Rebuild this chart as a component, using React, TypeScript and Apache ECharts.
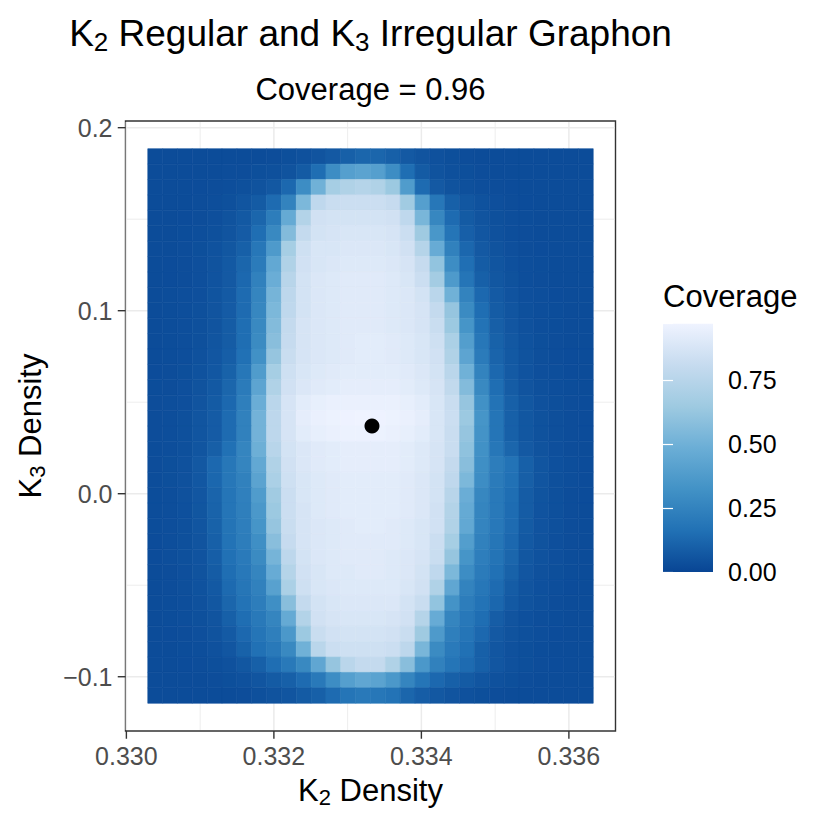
import React, { useEffect, useRef } from "react";
import * as echarts from "echarts";

// ---- data ----
// extent of the coverage raster (K2 density on x, K3 density on y)
const rasterX = [0.33029, 0.33633];
const rasterY = [-0.1145, 0.1885];

// coverage values, rows from top (high K3) to bottom (low K3), columns left to right
const coverageRows: number[][] = [
  [0.025,0.025,0.025,0.025,0.025,0.025,0.025,0.025,0.03,0.035,0.045,0.055,0.075,0.10,0.12,0.12,0.10,0.075,0.055,0.045,0.035,0.03,0.025,0.025,0.025,0.025,0.025,0.025,0.025,0.025],
  [0.025,0.025,0.025,0.025,0.025,0.03,0.03,0.035,0.04,0.05,0.08,0.15,0.30,0.40,0.42,0.40,0.30,0.15,0.08,0.05,0.04,0.035,0.03,0.025,0.025,0.025,0.025,0.025,0.025,0.025],
  [0.025,0.025,0.025,0.027,0.03,0.033,0.04,0.05,0.07,0.13,0.30,0.50,0.68,0.72,0.74,0.72,0.64,0.38,0.14,0.075,0.05,0.04,0.033,0.03,0.027,0.025,0.025,0.025,0.025,0.025],
  [0.025,0.025,0.025,0.03,0.033,0.04,0.058,0.08,0.14,0.25,0.54,0.78,0.82,0.83,0.83,0.83,0.81,0.66,0.40,0.19,0.10,0.065,0.047,0.037,0.03,0.027,0.025,0.025,0.025,0.025],
  [0.025,0.025,0.027,0.031,0.037,0.05,0.072,0.12,0.22,0.46,0.73,0.85,0.86,0.86,0.86,0.86,0.85,0.78,0.53,0.27,0.14,0.08,0.055,0.039,0.032,0.028,0.025,0.025,0.025,0.025],
  [0.025,0.025,0.028,0.033,0.04,0.056,0.082,0.15,0.28,0.56,0.80,0.86,0.87,0.88,0.88,0.88,0.87,0.83,0.65,0.35,0.18,0.097,0.064,0.045,0.034,0.03,0.026,0.025,0.025,0.025],
  [0.025,0.026,0.03,0.035,0.047,0.065,0.10,0.19,0.37,0.68,0.84,0.88,0.88,0.89,0.89,0.89,0.88,0.85,0.74,0.47,0.24,0.125,0.075,0.051,0.037,0.031,0.027,0.025,0.025,0.025],
  [0.025,0.027,0.03,0.037,0.05,0.072,0.12,0.21,0.45,0.72,0.85,0.88,0.89,0.90,0.90,0.90,0.89,0.87,0.81,0.61,0.30,0.155,0.085,0.058,0.042,0.033,0.028,0.025,0.025,0.025],
  [0.025,0.027,0.031,0.037,0.052,0.075,0.13,0.24,0.48,0.75,0.86,0.89,0.90,0.91,0.91,0.91,0.90,0.88,0.83,0.67,0.37,0.18,0.10,0.065,0.046,0.034,0.03,0.026,0.025,0.025],
  [0.025,0.028,0.032,0.038,0.054,0.078,0.14,0.26,0.52,0.77,0.86,0.89,0.90,0.91,0.91,0.91,0.90,0.89,0.86,0.76,0.50,0.25,0.13,0.078,0.052,0.037,0.032,0.027,0.025,0.025],
  [0.025,0.028,0.033,0.039,0.055,0.082,0.14,0.27,0.54,0.78,0.86,0.89,0.90,0.91,0.91,0.91,0.90,0.89,0.87,0.80,0.62,0.29,0.15,0.085,0.057,0.041,0.033,0.028,0.025,0.025],
  [0.025,0.028,0.033,0.04,0.056,0.085,0.15,0.28,0.56,0.80,0.87,0.89,0.90,0.91,0.91,0.91,0.90,0.89,0.87,0.82,0.64,0.34,0.17,0.095,0.062,0.043,0.034,0.029,0.025,0.025],
  [0.025,0.029,0.033,0.04,0.058,0.085,0.15,0.29,0.58,0.81,0.87,0.89,0.90,0.91,0.92,0.92,0.91,0.90,0.88,0.84,0.70,0.39,0.19,0.105,0.068,0.047,0.035,0.03,0.026,0.025],
  [0.026,0.029,0.034,0.043,0.062,0.092,0.16,0.32,0.62,0.82,0.87,0.89,0.90,0.91,0.92,0.92,0.91,0.90,0.88,0.85,0.72,0.43,0.21,0.115,0.072,0.05,0.036,0.03,0.027,0.025],
  [0.027,0.03,0.035,0.047,0.067,0.105,0.19,0.38,0.68,0.84,0.88,0.90,0.91,0.92,0.92,0.92,0.92,0.91,0.89,0.86,0.76,0.50,0.25,0.13,0.078,0.052,0.037,0.032,0.027,0.025],
  [0.028,0.031,0.037,0.05,0.072,0.12,0.21,0.43,0.72,0.85,0.89,0.91,0.92,0.93,0.93,0.93,0.93,0.92,0.90,0.87,0.79,0.56,0.28,0.15,0.085,0.056,0.04,0.033,0.028,0.025],
  [0.03,0.033,0.038,0.055,0.08,0.13,0.23,0.48,0.76,0.87,0.92,0.94,0.95,0.95,0.95,0.95,0.95,0.94,0.92,0.88,0.82,0.62,0.32,0.17,0.10,0.065,0.045,0.035,0.03,0.027],
  [0.03,0.034,0.04,0.057,0.082,0.14,0.24,0.51,0.77,0.87,0.93,0.95,0.96,0.965,0.97,0.965,0.96,0.95,0.93,0.88,0.83,0.64,0.34,0.18,0.10,0.066,0.046,0.036,0.03,0.027],
  [0.03,0.034,0.04,0.057,0.082,0.14,0.24,0.51,0.77,0.87,0.92,0.94,0.95,0.96,0.96,0.96,0.95,0.94,0.92,0.88,0.82,0.62,0.33,0.18,0.10,0.066,0.046,0.036,0.03,0.027],
  [0.028,0.033,0.04,0.06,0.095,0.16,0.26,0.49,0.75,0.86,0.89,0.91,0.92,0.93,0.93,0.93,0.93,0.92,0.90,0.87,0.82,0.60,0.32,0.19,0.12,0.075,0.05,0.037,0.03,0.026],
  [0.03,0.035,0.045,0.07,0.13,0.19,0.26,0.45,0.72,0.85,0.89,0.91,0.92,0.93,0.93,0.93,0.93,0.92,0.90,0.87,0.80,0.58,0.31,0.22,0.17,0.10,0.06,0.042,0.032,0.027],
  [0.029,0.035,0.044,0.067,0.125,0.19,0.24,0.42,0.70,0.84,0.88,0.90,0.91,0.92,0.92,0.92,0.92,0.91,0.89,0.86,0.78,0.54,0.30,0.21,0.16,0.095,0.058,0.041,0.032,0.027],
  [0.029,0.034,0.043,0.063,0.115,0.18,0.235,0.38,0.66,0.83,0.88,0.90,0.91,0.92,0.92,0.92,0.92,0.91,0.89,0.86,0.75,0.48,0.27,0.20,0.15,0.085,0.054,0.04,0.031,0.027],
  [0.029,0.034,0.042,0.061,0.11,0.18,0.23,0.36,0.64,0.83,0.87,0.90,0.91,0.92,0.92,0.92,0.92,0.91,0.89,0.85,0.73,0.46,0.26,0.20,0.145,0.083,0.053,0.039,0.031,0.026],
  [0.028,0.034,0.041,0.058,0.105,0.175,0.225,0.34,0.62,0.82,0.87,0.89,0.90,0.91,0.92,0.92,0.91,0.90,0.88,0.85,0.72,0.45,0.255,0.195,0.14,0.08,0.052,0.039,0.031,0.026],
  [0.027,0.033,0.04,0.055,0.10,0.17,0.22,0.31,0.58,0.81,0.87,0.89,0.90,0.91,0.91,0.91,0.91,0.90,0.88,0.83,0.68,0.39,0.24,0.185,0.13,0.072,0.05,0.038,0.03,0.026],
  [0.027,0.032,0.039,0.053,0.092,0.16,0.205,0.29,0.52,0.77,0.86,0.89,0.90,0.91,0.91,0.91,0.90,0.89,0.87,0.82,0.62,0.34,0.225,0.175,0.12,0.066,0.047,0.037,0.029,0.026],
  [0.026,0.031,0.037,0.05,0.083,0.15,0.195,0.26,0.47,0.74,0.85,0.88,0.90,0.90,0.91,0.91,0.90,0.89,0.86,0.78,0.54,0.30,0.21,0.16,0.105,0.062,0.045,0.035,0.028,0.025],
  [0.026,0.03,0.036,0.048,0.074,0.135,0.185,0.24,0.41,0.70,0.84,0.88,0.89,0.90,0.90,0.90,0.90,0.88,0.85,0.72,0.44,0.25,0.19,0.14,0.085,0.055,0.042,0.033,0.027,0.025],
  [0.025,0.029,0.034,0.045,0.065,0.12,0.17,0.22,0.31,0.58,0.80,0.86,0.88,0.89,0.89,0.89,0.89,0.86,0.82,0.61,0.33,0.22,0.17,0.125,0.072,0.05,0.039,0.031,0.026,0.025],
  [0.025,0.028,0.032,0.04,0.055,0.10,0.15,0.20,0.26,0.46,0.73,0.85,0.87,0.88,0.88,0.88,0.87,0.85,0.74,0.47,0.26,0.195,0.15,0.09,0.056,0.042,0.034,0.029,0.026,0.025],
  [0.025,0.027,0.03,0.038,0.05,0.078,0.13,0.18,0.23,0.36,0.64,0.82,0.85,0.86,0.86,0.86,0.85,0.82,0.65,0.37,0.23,0.18,0.13,0.075,0.05,0.04,0.032,0.027,0.025,0.025],
  [0.025,0.025,0.028,0.033,0.045,0.062,0.105,0.16,0.20,0.28,0.50,0.76,0.83,0.84,0.84,0.84,0.83,0.77,0.53,0.29,0.205,0.16,0.10,0.062,0.045,0.035,0.029,0.025,0.025,0.025],
  [0.025,0.025,0.027,0.03,0.035,0.045,0.065,0.10,0.15,0.20,0.28,0.44,0.62,0.76,0.80,0.80,0.72,0.58,0.36,0.24,0.18,0.14,0.10,0.062,0.045,0.035,0.03,0.027,0.025,0.025],
  [0.025,0.025,0.025,0.025,0.03,0.035,0.045,0.06,0.08,0.10,0.14,0.20,0.30,0.40,0.44,0.42,0.36,0.26,0.18,0.13,0.10,0.08,0.06,0.045,0.035,0.03,0.025,0.025,0.025,0.025],
  [0.025,0.025,0.025,0.025,0.025,0.025,0.03,0.04,0.05,0.06,0.08,0.10,0.14,0.18,0.20,0.19,0.17,0.12,0.09,0.07,0.055,0.045,0.035,0.03,0.025,0.025,0.025,0.025,0.025,0.025],
];

const xMajorBreaks = [0.330, 0.332, 0.334, 0.336];
const xMinorBreaks = [0.331, 0.333, 0.335];
const yMajorBreaks = [-0.1, 0.0, 0.1, 0.2];
const yMinorBreaks = [-0.05, 0.05, 0.15];
const legendBreaks = [0, 0.25, 0.5, 0.75];

const pointX = [0.33333];
const pointY = [0.037];

const bluesPalette = ["#084594", "#2171b5", "#4292c6", "#6baed6", "#9ecae1", "#c6dbef", "#eff3ff"];

// ---- derived ----
const FONT = "'Liberation Sans', Arial, Helvetica, sans-serif";
const expand = (r: number[]) => {
  const d = (r[1] - r[0]) * 0.05;
  return [r[0] - d, r[1] + d];
};
const [xMin, xMax] = expand(rasterX);
const [yMin, yMax] = expand(rasterY);

const nRows = coverageRows.length;
const nCols = coverageRows[0].length;
const dx = (rasterX[1] - rasterX[0]) / nCols;
const dy = (rasterY[1] - rasterY[0]) / nRows;
const cells: number[][] = [];
coverageRows.forEach((row, r) => {
  row.forEach((v, c) => {
    const x0 = rasterX[0] + c * dx;
    const yTop = rasterY[1] - r * dy;
    cells.push([x0, x0 + dx, yTop - dy, yTop, v]);
  });
});
let covMax = 0;
coverageRows.forEach((row) => row.forEach((v) => { if (v > covMax) covMax = v; }));

const gridLineData: number[][] = [
  ...xMajorBreaks.map((v) => [0, 0, v]),
  ...xMinorBreaks.map((v) => [0, 1, v]),
  ...yMajorBreaks.map((v) => [1, 0, v]),
  ...yMinorBreaks.map((v) => [1, 1, v]),
];
const tickData: number[][] = [
  ...xMajorBreaks.map((v) => [0, v]),
  ...yMajorBreaks.map((v) => [1, v]),
];

// layout
const PANEL = { left: 125.5, top: 121, width: 490, height: 610 };
const LEG = { left: 663, bottom: 572, width: 50, perUnit: 256 };
const legHeight = covMax * LEG.perUnit;
const legTop = LEG.bottom - legHeight;
const legendInterval = legendBreaks[1] - legendBreaks[0];

const fmtSigned = (v: number, d: number) => (v < 0 ? "\u2212" + Math.abs(v).toFixed(d) : v.toFixed(d));

export default function App() {
  const ref = useRef<HTMLDivElement>(null);
  useEffect(() => {
    if (!ref.current) return;
    const chart = echarts.init(ref.current, null, { renderer: "svg" });
    const stops = bluesPalette.map((c, i) => ({ offset: i / (bluesPalette.length - 1), color: c }));
    const option: any = {
      animation: false,
      textStyle: { fontFamily: FONT },
      grid: [
        {
          left: PANEL.left, top: PANEL.top, width: PANEL.width, height: PANEL.height,
          show: true, borderColor: "#333333", borderWidth: 1.4, backgroundColor: "transparent",
          containLabel: false, outerBoundsMode: "none",
        },
        {
          left: LEG.left, top: legTop, width: LEG.width, height: legHeight,
          show: false, containLabel: false, outerBoundsMode: "none",
        },
      ],
      xAxis: [
        {
          type: "value", gridIndex: 0, min: xMin, max: xMax,
          minInterval: 0.002, maxInterval: 0.002,
          axisLine: { show: false }, axisTick: { show: false }, splitLine: { show: false },
          axisLabel: {
            show: true, fontSize: 25, color: "#4d4d4d", fontFamily: FONT, margin: 12,
            showMinLabel: false, showMaxLabel: false,
            formatter: (v: number) => v.toFixed(3),
          },
        },
        { type: "value", gridIndex: 1, min: 0, max: 1, show: false },
      ],
      yAxis: [
        {
          type: "value", gridIndex: 0, min: yMin, max: yMax,
          minInterval: 0.1, maxInterval: 0.1,
          axisLine: { show: false }, axisTick: { show: false }, splitLine: { show: false },
          axisLabel: {
            show: true, fontSize: 25, color: "#4d4d4d", fontFamily: FONT, margin: 13,
            showMinLabel: false, showMaxLabel: false,
            formatter: (v: number) => fmtSigned(v, 1),
          },
        },
        {
          type: "value", gridIndex: 1, position: "right", min: 0, max: covMax, interval: legendInterval,
          axisLine: { show: false },
          axisTick: { show: true, inside: true, length: 10, lineStyle: { color: "#ffffff", width: 1.2 } },
          splitLine: { show: false },
          axisLabel: {
            show: true, fontSize: 25, color: "#000000", fontFamily: FONT, margin: 15,
            showMaxLabel: false,
            formatter: (v: number) => v.toFixed(2),
          },
        },
        {
          type: "value", gridIndex: 1, position: "left", min: 0, max: covMax, interval: legendInterval,
          axisLine: { show: false },
          axisTick: { show: true, inside: true, length: 10, lineStyle: { color: "#ffffff", width: 1.2 } },
          splitLine: { show: false },
          axisLabel: { show: false },
        },
      ],
      visualMap: {
        type: "continuous", show: false, min: 0, max: covMax, dimension: 4, seriesIndex: 1,
        inRange: { color: bluesPalette },
      },
      series: [
        {
          type: "custom", name: "grid", xAxisIndex: 0, yAxisIndex: 0, z: 1, silent: true,
          data: gridLineData,
          renderItem: (params: any, api: any) => {
            const cs = params.coordSys;
            const orient = api.value(0);
            const kind = api.value(1);
            const v = api.value(2);
            let shape;
            if (orient === 0) {
              const p = api.coord([v, yMin]);
              shape = { x1: p[0], y1: cs.y + 1, x2: p[0], y2: cs.y + cs.height - 1 };
            } else {
              const p = api.coord([xMin, v]);
              shape = { x1: cs.x + 1, y1: p[1], x2: cs.x + cs.width - 1, y2: p[1] };
            }
            return { type: "line", shape, style: { stroke: "#ebebeb", lineWidth: kind === 0 ? 1.5 : 0.9 } };
          },
        },
        {
          type: "custom", name: "Coverage", xAxisIndex: 0, yAxisIndex: 0, z: 2, silent: true,
          data: cells,
          encode: { x: [0, 1], y: [2, 3] },
          renderItem: (_params: any, api: any) => {
            const p0 = api.coord([api.value(0), api.value(3)]);
            const p1 = api.coord([api.value(1), api.value(2)]);
            const color = api.visual("color");
            return {
              type: "rect",
              shape: { x: p0[0], y: p0[1], width: p1[0] - p0[0], height: p1[1] - p0[1] },
              style: { fill: color, stroke: color, lineWidth: 0.6 },
            };
          },
        },
        {
          type: "custom", name: "ticks", xAxisIndex: 0, yAxisIndex: 0, z: 3, silent: true, clip: false,
          data: tickData,
          renderItem: (_params: any, api: any) => {
            const orient = api.value(0);
            const v = api.value(1);
            let shape;
            if (orient === 0) {
              const p = api.coord([v, yMin]);
              shape = { x1: p[0], y1: p[1], x2: p[0], y2: p[1] + 7.75 };
            } else {
              const p = api.coord([xMin, v]);
              shape = { x1: p[0] - 7.75, y1: p[1], x2: p[0], y2: p[1] };
            }
            return { type: "line", shape, style: { stroke: "#333333", lineWidth: 1.4 } };
          },
        },
        {
          type: "scatter", name: "truth", xAxisIndex: 0, yAxisIndex: 0, z: 10, silent: true,
          symbol: "circle", symbolSize: 15,
          itemStyle: { color: "#000000", opacity: 1 },
          data: pointX.map((x, i) => [x, pointY[i]]),
        },
      ],
      graphic: [
        {
          type: "rect", z: -1, silent: true,
          shape: { x: LEG.left, y: legTop, width: LEG.width, height: legHeight },
          style: { fill: new echarts.graphic.LinearGradient(0, 1, 0, 0, stops) },
        },
        {
          type: "text", x: 370.5, y: 33, silent: true,
          style: {
            text: "{n|K}{s|2}{n| Regular and K}{s|3}{n| Irregular Graphon}",
            align: "center", verticalAlign: "middle",
            rich: {
              n: { fontSize: 37, lineHeight: 44, fontFamily: FONT, fill: "#000", color: "#000" },
              s: { fontSize: 26, lineHeight: 26, fontFamily: FONT, fill: "#000", color: "#000", verticalAlign: "bottom" },
            },
          },
        },
        {
          type: "text", x: 370.5, y: 89, silent: true,
          style: { text: "Coverage = 0.96", align: "center", verticalAlign: "middle", fontSize: 31, fontFamily: FONT, fill: "#000" },
        },
        {
          type: "text", x: 370.5, y: 790, silent: true,
          style: {
            text: "{n|K}{s|2}{n| Density}",
            align: "center", verticalAlign: "middle",
            rich: {
              n: { fontSize: 31, lineHeight: 37, fontFamily: FONT, fill: "#000", color: "#000" },
              s: { fontSize: 22, lineHeight: 22, fontFamily: FONT, fill: "#000", color: "#000", verticalAlign: "bottom" },
            },
          },
        },
        {
          type: "text", x: 30, y: 426, rotation: Math.PI / 2, silent: true,
          style: {
            text: "{n|K}{s|3}{n| Density}",
            align: "center", verticalAlign: "middle",
            rich: {
              n: { fontSize: 31, lineHeight: 37, fontFamily: FONT, fill: "#000", color: "#000" },
              s: { fontSize: 22, lineHeight: 22, fontFamily: FONT, fill: "#000", color: "#000", verticalAlign: "bottom" },
            },
          },
        },
        {
          type: "text", x: 663, y: 296, silent: true,
          style: { text: "Coverage", align: "left", verticalAlign: "middle", fontSize: 31, fontFamily: FONT, fill: "#000" },
        },
      ],
    };
    chart.setOption(option);
    return () => chart.dispose();
  }, []);
  return (
    <div
      ref={ref}
      style={{ position: "absolute", left: 0, top: 0, width: 830, height: 830, background: "#ffffff" }}
    />
  );
}
